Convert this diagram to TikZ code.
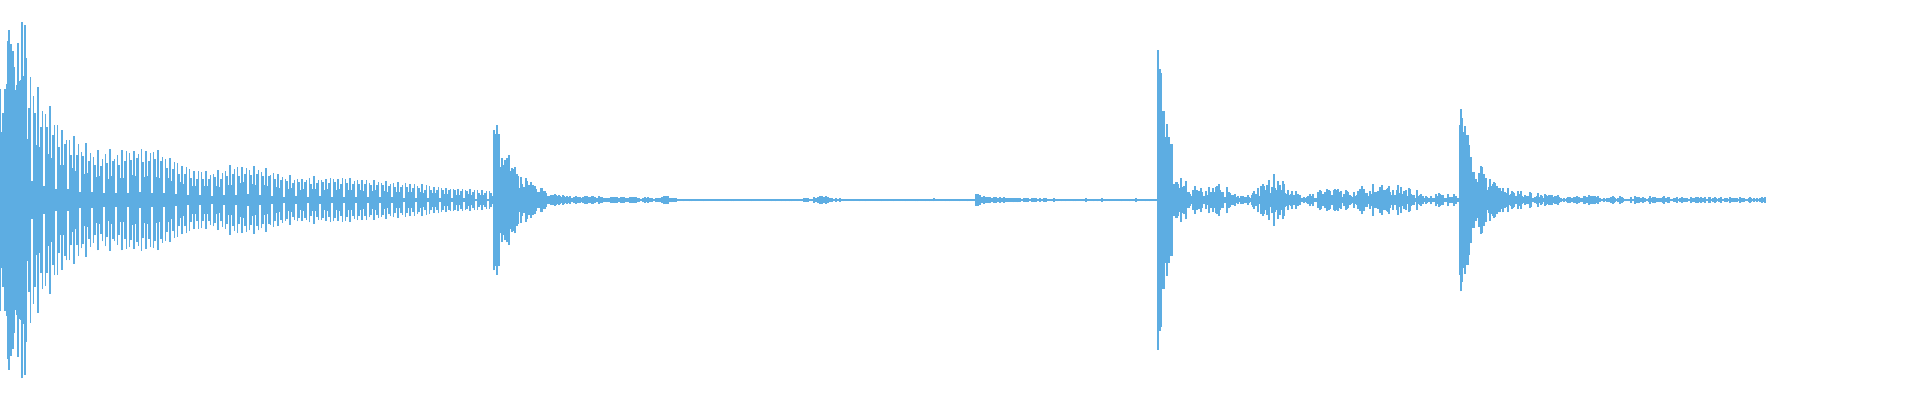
\documentclass[tikz,border=0pt]{standalone}
\usepackage{tikz}
\definecolor{wavecol}{RGB}{93,173,226}
\tikzset{wave/.style={color=wavecol,line width=0.4pt}}
\begin{document}
\begin{tikzpicture}[x=0.01cm,y=0.01cm]
\pgfmathsetseed{7}
\useasboundingbox (0,-200) rectangle (1920,200);

% Attack of the first note
\foreach \x in {0,1,...,26} {
  \pgfmathsetmacro\a{197*(0.5+0.5*rnd)*(\x<8 ? 0.6 : 1)}
  \draw[wave] (\x,-\a) -- (\x,\a);
}

% Ringing tail with beats
\foreach \x in {26,27.5,...,500} {
  \pgfmathsetmacro\env{18+140*exp(max(-20,-(\x-20)/50))+28*exp(max(-20,-((\x-150)/40)^2))+18*exp(max(-20,-((\x-245)/35)^2))+6*exp(max(-20,-((\x-330)/50)^2))}
  \pgfmathsetmacro\fade{\x>400 ? 1-0.5*(\x-400)/100 : 1}
  \pgfmathsetmacro\a{\env*\fade*(0.15+0.85*abs(sin(mod(\x,8)*45)))*(0.85+0.15*rnd)}
  \draw[wave] (\x,-\a) -- (\x,\a);
}

% Second hit
\foreach \x in {494,495,...,650} {
  \pgfmathsetmacro\a{(3+85*exp(max(-20,-(\x-494)/22)))*(0.3+0.7*rnd)}
  \draw[wave] (\x,-\a) -- (\x,\a);
}

% Quiet stretch with small blips
\foreach \x in {650,652,...,1158} {
  \pgfmathsetmacro\b{\x>975 ? max(-20,-(\x-975)/25) : -20}
  \pgfmathsetmacro\a{(1.5+4*exp(max(-20,-((\x-665)/8)^2))+5*exp(\b)+3*exp(max(-20,-((\x-822)/10)^2)))*(0.5+0.5*rnd)}
  \draw[wave] (\x,-\a) -- (\x,\a);
}

% Third hit
\foreach \x in {1158,1159,...,1460} {
  \pgfmathsetmacro\env{6+160*exp(max(-20,-(\x-1158)/12))+22*(0.5+0.5*sin(mod(\x,60)*6))*exp(max(-20,-((\x-1265)/55)^2))+12*exp(max(-20,-((\x-1380)/35)^2))}
  \pgfmathsetmacro\r{\x<1172 ? 0.6+0.4*rnd : 0.2+0.8*rnd^2}
  \pgfmathsetmacro\a{\env*\r}
  \draw[wave] (\x,-\a) -- (\x,\a);
}

% Fourth hit and fade out
\foreach \x in {1460,1461,...,1765} {
  \pgfmathsetmacro\r{\x<1470 ? 0.6+0.4*rnd : 0.25+0.75*rnd^2}
  \pgfmathsetmacro\a{(3+88*exp(max(-20,-(\x-1460)/18))+6*exp(max(-20,-(\x-1460)/100)))*\r}
  \draw[wave] (\x,-\a) -- (\x,\a);
}

\end{tikzpicture}
\end{document}
